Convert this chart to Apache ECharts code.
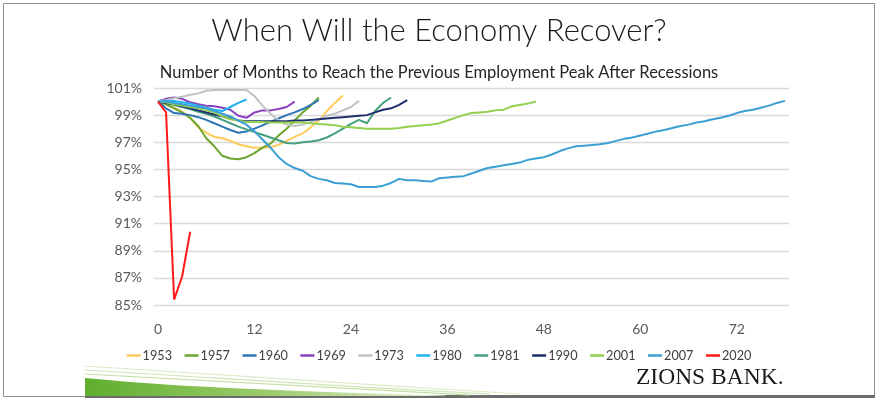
<!DOCTYPE html>
<html>
<head>
<meta charset="utf-8">
<script src="https://cdn.jsdelivr.net/npm/echarts@6/dist/echarts.min.js"></script>
<style>
html,body{margin:0;padding:0;background:#fff;}
#chart{width:878px;height:402px;}
</style>
</head>
<body>
<div id="chart"></div>
<script>
// Months after previous employment peak (category axis)
const months = [];
for (let i = 0; i <= 78; i++) months.push(String(i));

// Employment as % of previous peak, one value per month
const s1953 = [100, 99.8, 99.55, 99.25, 98.8, 98.1, 97.7, 97.4, 97.3, 97.1, 96.85, 96.7, 96.6, 96.6, 96.65, 96.8, 97.1, 97.4, 97.65, 98.1, 98.6, 99.3, 99.9, 100.45];
const s1957 = [100, 99.8, 99.5, 99.2, 98.8, 98.2, 97.3, 96.7, 96.0, 95.8, 95.75, 95.9, 96.2, 96.6, 96.9, 97.5, 98.0, 98.6, 99.2, 99.7, 100.3];
const s1960 = [100, 99.5, 99.15, 99.1, 99.0, 98.85, 98.65, 98.4, 98.15, 97.9, 97.7, 97.8, 98.0, 98.25, 98.5, 98.75, 99.0, 99.2, 99.45, 99.75, 100.1];
const s1969 = [100, 100.2, 100.3, 100.2, 99.95, 99.8, 99.7, 99.65, 99.55, 99.4, 98.95, 98.8, 99.2, 99.35, 99.35, 99.45, 99.6, 100.0];
const s1973 = [100, 100.1, 100.25, 100.35, 100.5, 100.6, 100.8, 100.85, 100.85, 100.85, 100.85, 100.85, 100.4, 99.7, 99.1, 98.6, 98.3, 98.2, 98.3, 98.5, 98.7, 98.95, 99.1, 99.35, 99.6, 100.05];
const s1980 = [100, 100.05, 100.05, 99.95, 99.85, 99.7, 99.55, 99.4, 99.3, 99.6, 99.9, 100.15];
const s1981 = [100, 99.9, 99.75, 99.6, 99.45, 99.25, 99.1, 98.9, 98.65, 98.4, 98.15, 97.95, 97.75, 97.55, 97.35, 97.15, 96.95, 96.9, 97.0, 97.05, 97.15, 97.35, 97.65, 98.0, 98.35, 98.65, 98.4, 99.3, 99.9, 100.3];
const s1990 = [100, 99.9, 99.8, 99.65, 99.5, 99.35, 99.2, 99.05, 98.9, 98.75, 98.6, 98.55, 98.55, 98.55, 98.55, 98.55, 98.55, 98.6, 98.6, 98.65, 98.7, 98.75, 98.8, 98.85, 98.9, 98.95, 99.0, 99.2, 99.4, 99.5, 99.75, 100.1];
const s2001 = [100, 99.95, 99.8, 99.7, 99.6, 99.5, 99.35, 99.2, 98.9, 98.7, 98.6, 98.5, 98.5, 98.5, 98.45, 98.45, 98.45, 98.45, 98.45, 98.4, 98.35, 98.3, 98.25, 98.15, 98.1, 98.05, 98.0, 98.0, 98.0, 98.0, 98.05, 98.15, 98.2, 98.25, 98.3, 98.4, 98.6, 98.8, 99.0, 99.15, 99.2, 99.25, 99.35, 99.4, 99.65, 99.75, 99.85, 100.0];
const s2007 = [100, 100.0, 99.9, 99.8, 99.7, 99.6, 99.5, 99.3, 99.1, 98.9, 98.6, 98.3, 97.8, 97.2, 96.6, 95.9, 95.4, 95.1, 94.9, 94.5, 94.3, 94.2, 94.0, 93.95, 93.9, 93.7, 93.7, 93.7, 93.8, 94.0, 94.3, 94.2, 94.2, 94.15, 94.1, 94.35, 94.4, 94.45, 94.5, 94.7, 94.9, 95.1, 95.2, 95.3, 95.4, 95.5, 95.7, 95.8, 95.9, 96.1, 96.35, 96.55, 96.7, 96.75, 96.8, 96.85, 96.95, 97.1, 97.25, 97.35, 97.5, 97.65, 97.8, 97.9, 98.05, 98.2, 98.3, 98.45, 98.55, 98.7, 98.8, 98.95, 99.15, 99.3, 99.4, 99.55, 99.7, 99.9, 100.05];
const s2020 = [100, 99.2, 85.4, 87.1, 90.4];

const seriesNames = ['1953', '1957', '1960', '1969', '1973', '1980', '1981', '1990', '2001', '2007', '2020'];
const seriesData = [s1953, s1957, s1960, s1969, s1973, s1980, s1981, s1990, s2001, s2007, s2020];
const seriesColors = ['#FFCA5C', '#6AA52C', '#2E75B6', '#8A40BE', '#BFC3C6', '#1EB2F0', '#46A07E', '#1F2F6E', '#92D050', '#3C9FD4', '#FF1A1A'];

const yTicks = { min: 85, max: 101, interval: 2 };

const FONT = 'Lato';
const chart = echarts.init(document.getElementById('chart'), null, { renderer: 'canvas' });

const series = seriesNames.map((n, i) => ({
  name: n,
  type: 'line',
  data: seriesData[i],
  showSymbol: false,
  symbol: 'none',
  smooth: false,
  lineStyle: { width: 2, color: seriesColors[i] },
  itemStyle: { color: seriesColors[i] },
  z: 2 + i,
  animation: false
}));

chart.setOption({
  animation: false,
  backgroundColor: '#ffffff',
  textStyle: { fontFamily: FONT },
  title: [
    { text: 'When Will the Economy Recover?', left: 'center', top: 10,
      textStyle: { fontFamily: FONT, fontWeight: 300, fontSize: 31, color: '#1a1a1a' } },
    { text: 'Number of Months to Reach the Previous Employment Peak After Recessions', left: 'center', top: 59,
      textStyle: { fontFamily: FONT, fontWeight: 'normal', fontSize: 16.5, color: '#262626' } }
  ],
  legend: {
    data: seriesNames,
    top: 344,
    left: 'center',
    icon: 'rect',
    itemWidth: 14,
    itemHeight: 2.5,
    itemGap: 12.5,
    textStyle: { fontFamily: FONT, fontSize: 12.7, color: '#404040', padding: [0, 0, 0, -3] }
  },
  grid: { left: 154, right: 89, top: 88, bottom: 97, containLabel: false },
  xAxis: {
    type: 'category',
    data: months,
    boundaryGap: true,
    axisLine: { show: false },
    axisTick: { show: false },
    axisLabel: { interval: 11, color: '#595959', fontSize: 14, margin: 17, fontFamily: FONT },
    splitLine: { show: false }
  },
  yAxis: {
    type: 'value',
    min: yTicks.min,
    max: yTicks.max,
    interval: yTicks.interval,
    axisLine: { show: false },
    axisTick: { show: false },
    axisLabel: { formatter: '{value}%', color: '#595959', fontSize: 14, margin: 12, fontFamily: FONT },
    splitLine: { lineStyle: { color: '#D9D9D9', width: 1.3 } }
  },
  series: series,
  graphic: [
    { type: 'rect', shape: { x: 3.5, y: 3.5, width: 871, height: 393 }, style: { fill: 'none', stroke: '#8c8c8c', lineWidth: 1 }, silent: true, z: 0 },
    { type: 'rect', shape: { x: 85, y: 395, width: 790, height: 3 }, style: { fill: '#6b6b6b' }, silent: true },
    { type: 'polygon', shape: { points: [[85, 378], [130, 382], [180, 385.5], [240, 388.5], [300, 391], [370, 393.5], [445, 395.5], [445, 396], [85, 396]] },
      style: { fill: { type: 'linear', x: 0, y: 0, x2: 1, y2: 0, colorStops: [{ offset: 0, color: '#5FAE2E' }, { offset: 0.5, color: '#9BCB6B' }, { offset: 1, color: '#E6F1D8' }] } }, silent: true },
    { type: 'bezierCurve', shape: { x1: 85, y1: 366, cpx1: 220, cpy1: 374, cpx2: 380, cpy2: 386, x2: 520, y2: 394 }, style: { fill: 'none', stroke: '#DCEBC8', lineWidth: 1.2 }, silent: true },
    { type: 'bezierCurve', shape: { x1: 85, y1: 370, cpx1: 220, cpy1: 378, cpx2: 360, cpy2: 388, x2: 490, y2: 394 }, style: { fill: 'none', stroke: '#CFE5B6', lineWidth: 1.2 }, silent: true },
    { type: 'bezierCurve', shape: { x1: 85, y1: 374, cpx1: 210, cpy1: 382, cpx2: 340, cpy2: 389, x2: 470, y2: 395 }, style: { fill: 'none', stroke: '#C3DEA4', lineWidth: 1.2 }, silent: true },
    { type: 'text', left: 636, top: 366, style: { text: 'ZIONS BANK.', font: '23.5px "Liberation Serif", "DejaVu Serif", serif', fill: '#1a1a1a' }, silent: true }
  ]
});
</script>
</body>
</html>
